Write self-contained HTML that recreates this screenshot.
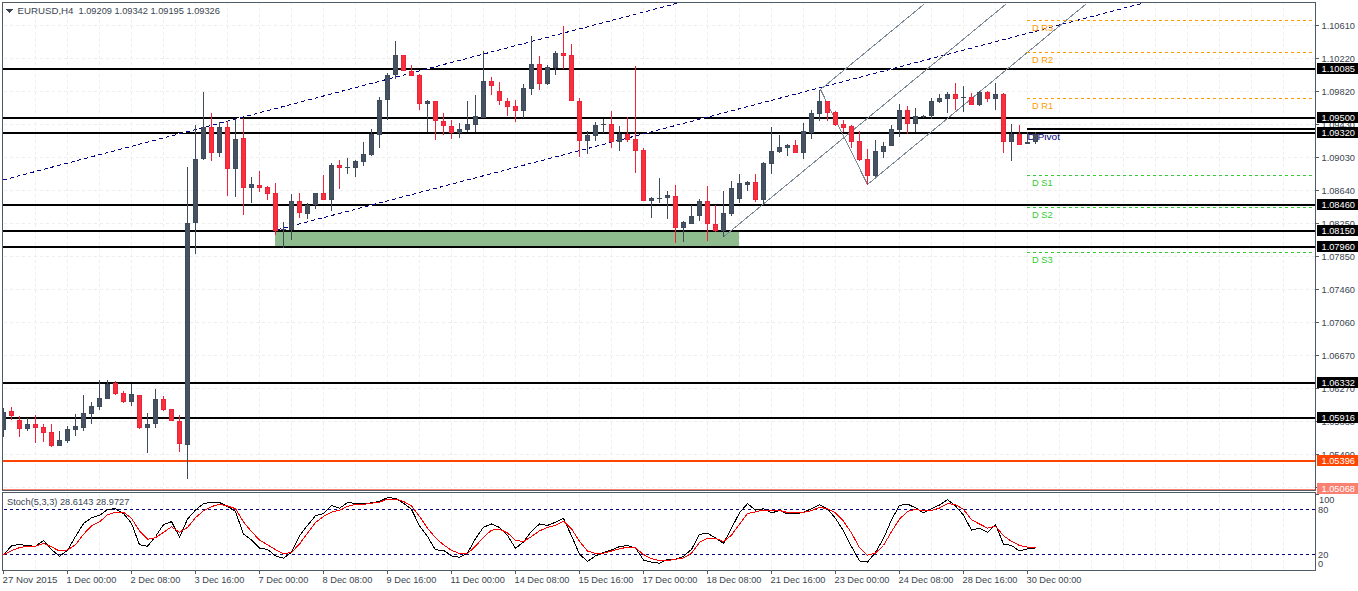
<!DOCTYPE html>
<html><head><meta charset="utf-8"><style>
html,body{margin:0;padding:0;background:#fff;width:1358px;height:591px;overflow:hidden}
svg text{white-space:pre}
</style></head><body>
<svg width="1358" height="591" shape-rendering="crispEdges" font-family='"Liberation Sans", sans-serif' font-size="9.7" style="position:absolute;left:0;top:0">
<defs><clipPath id="cm"><rect x="3" y="3" width="1312" height="487"/></clipPath>
<clipPath id="cs"><rect x="3" y="493" width="1312" height="77"/></clipPath></defs>
<path d="M35.5 2V490 M35.5 494V570 M67.5 2V490 M67.5 494V570 M99.5 2V490 M99.5 494V570 M131.5 2V490 M131.5 494V570 M163.5 2V490 M163.5 494V570 M195.5 2V490 M195.5 494V570 M227.5 2V490 M227.5 494V570 M259.5 2V490 M259.5 494V570 M291.5 2V490 M291.5 494V570 M323.5 2V490 M323.5 494V570 M355.5 2V490 M355.5 494V570 M387.5 2V490 M387.5 494V570 M419.5 2V490 M419.5 494V570 M451.5 2V490 M451.5 494V570 M483.5 2V490 M483.5 494V570 M515.5 2V490 M515.5 494V570 M547.5 2V490 M547.5 494V570 M579.5 2V490 M579.5 494V570 M611.5 2V490 M611.5 494V570 M643.5 2V490 M643.5 494V570 M675.5 2V490 M675.5 494V570 M707.5 2V490 M707.5 494V570 M739.5 2V490 M739.5 494V570 M771.5 2V490 M771.5 494V570 M803.5 2V490 M803.5 494V570 M835.5 2V490 M835.5 494V570 M867.5 2V490 M867.5 494V570 M899.5 2V490 M899.5 494V570 M931.5 2V490 M931.5 494V570 M963.5 2V490 M963.5 494V570 M995.5 2V490 M995.5 494V570 M1027.5 2V490 M1027.5 494V570 M1059.5 2V490 M1059.5 494V570 M1091.5 2V490 M1091.5 494V570 M1123.5 2V490 M1123.5 494V570 M1155.5 2V490 M1155.5 494V570 M1187.5 2V490 M1187.5 494V570 M1219.5 2V490 M1219.5 494V570 M1251.5 2V490 M1251.5 494V570 M1283.5 2V490 M1283.5 494V570 M4 25.5H1315 M4 58.5H1315 M4 91.5H1315 M4 124.5H1315 M4 157.5H1315 M4 190.5H1315 M4 223.5H1315 M4 256.5H1315 M4 289.5H1315 M4 322.5H1315 M4 355.5H1315 M4 388.5H1315 M4 421.5H1315 M4 454.5H1315 M4 487.5H1315" stroke="#eeeeee" stroke-width="1" stroke-dasharray="3,3" fill="none"/>
<g clip-path="url(#cm)"><rect x="275" y="231" width="464" height="16" fill="#8fbc8f"/><rect x="3" y="68" width="1312" height="2" fill="#000"/><rect x="3" y="117" width="1312" height="2" fill="#000"/><rect x="3" y="132" width="1312" height="2" fill="#000"/><rect x="3" y="204" width="1312" height="2" fill="#000"/><rect x="3" y="230" width="1312" height="2" fill="#000"/><rect x="3" y="246" width="1312" height="2" fill="#000"/><rect x="3" y="382" width="1312" height="2" fill="#000"/><rect x="3" y="417" width="1312" height="2" fill="#000"/><rect x="3" y="460" width="1312" height="2" fill="#ff4500"/><rect x="3" y="489" width="1312" height="1" fill="#fa8072"/><line x1="3" y1="180" x2="677.5" y2="3.2" stroke="#fff" stroke-width="1"/><line x1="3" y1="180" x2="677.5" y2="3.2" stroke="#000080" stroke-width="1" stroke-dasharray="4,3"/><line x1="277" y1="229.8" x2="1143.5" y2="3.0" stroke="#fff" stroke-width="1"/><line x1="277" y1="229.8" x2="1143.5" y2="3.0" stroke="#000080" stroke-width="1" stroke-dasharray="4,3"/><line x1="820.5" y1="89.5" x2="924.3" y2="4" stroke="#7b8a96" stroke-width="1"/><line x1="724" y1="236.5" x2="1006.1" y2="4" stroke="#7b8a96" stroke-width="1"/><line x1="867.5" y1="184.5" x2="1086" y2="4" stroke="#7b8a96" stroke-width="1"/><line x1="820.5" y1="89.5" x2="867.5" y2="184.5" stroke="#7b8a96" stroke-width="1"/><rect x="1027" y="128" width="288" height="2" fill="#000"/><path d="M1027 20.5H1315" stroke="#ff9900" stroke-dasharray="3,3"/><path d="M1027 52.5H1315" stroke="#ff9900" stroke-dasharray="3,3"/><path d="M1027 98.5H1315" stroke="#ff9900" stroke-dasharray="3,3"/><path d="M1027 175.5H1315" stroke="#32cd32" stroke-dasharray="3,3"/><path d="M1027 207.5H1315" stroke="#32cd32" stroke-dasharray="3,3"/><path d="M1027 252.5H1315" stroke="#32cd32" stroke-dasharray="3,3"/><text x="1032" y="31" fill="#ff9900" textLength="21.06" lengthAdjust="spacingAndGlyphs" >D R3</text><text x="1032" y="63" fill="#ff9900" textLength="21.06" lengthAdjust="spacingAndGlyphs" >D R2</text><text x="1032" y="109" fill="#ff9900" textLength="21.06" lengthAdjust="spacingAndGlyphs" >D R1</text><text x="1027.5" y="140" fill="#000080" font-size="9" textLength="32.5" lengthAdjust="spacingAndGlyphs">D Pivot</text><text x="1032" y="186" fill="#32cd32" textLength="20.56" lengthAdjust="spacingAndGlyphs" >D S1</text><text x="1032" y="218" fill="#32cd32" textLength="20.56" lengthAdjust="spacingAndGlyphs" >D S2</text><text x="1032" y="263" fill="#32cd32" textLength="20.56" lengthAdjust="spacingAndGlyphs" >D S3</text><rect x="3" y="408" width="1" height="29" fill="#3e4b5b"/><rect x="1" y="412" width="5" height="18" fill="#3e4b5b"/><rect x="2" y="413" width="3" height="16" fill="#465261"/><rect x="11" y="407" width="1" height="13" fill="#ef2337"/><rect x="9" y="411" width="5" height="5" fill="#ef2337"/><rect x="10" y="412" width="3" height="3" fill="#f5303f"/><rect x="19" y="416" width="1" height="21" fill="#ef2337"/><rect x="17" y="420" width="5" height="9" fill="#ef2337"/><rect x="18" y="421" width="3" height="7" fill="#f5303f"/><rect x="27" y="418" width="1" height="13" fill="#3e4b5b"/><rect x="25" y="424" width="5" height="5" fill="#3e4b5b"/><rect x="26" y="425" width="3" height="3" fill="#465261"/><rect x="35" y="415" width="1" height="28" fill="#ef2337"/><rect x="33" y="424" width="5" height="4" fill="#ef2337"/><rect x="34" y="425" width="3" height="2" fill="#f5303f"/><rect x="43" y="424" width="1" height="18" fill="#ef2337"/><rect x="41" y="427" width="5" height="6" fill="#ef2337"/><rect x="42" y="428" width="3" height="4" fill="#f5303f"/><rect x="51" y="424" width="1" height="23" fill="#ef2337"/><rect x="49" y="432" width="5" height="14" fill="#ef2337"/><rect x="50" y="433" width="3" height="12" fill="#f5303f"/><rect x="59" y="431" width="1" height="15" fill="#3e4b5b"/><rect x="57" y="440" width="5" height="6" fill="#3e4b5b"/><rect x="58" y="441" width="3" height="4" fill="#465261"/><rect x="67" y="426" width="1" height="17" fill="#3e4b5b"/><rect x="65" y="429" width="5" height="12" fill="#3e4b5b"/><rect x="66" y="430" width="3" height="10" fill="#465261"/><rect x="75" y="414" width="1" height="22" fill="#3e4b5b"/><rect x="73" y="426" width="5" height="4" fill="#3e4b5b"/><rect x="74" y="427" width="3" height="2" fill="#465261"/><rect x="83" y="395" width="1" height="36" fill="#3e4b5b"/><rect x="81" y="413" width="5" height="15" fill="#3e4b5b"/><rect x="82" y="414" width="3" height="13" fill="#465261"/><rect x="91" y="402" width="1" height="22" fill="#3e4b5b"/><rect x="89" y="406" width="5" height="8" fill="#3e4b5b"/><rect x="90" y="407" width="3" height="6" fill="#465261"/><rect x="99" y="380" width="1" height="30" fill="#3e4b5b"/><rect x="97" y="398" width="5" height="9" fill="#3e4b5b"/><rect x="98" y="399" width="3" height="7" fill="#465261"/><rect x="107" y="380" width="1" height="19" fill="#3e4b5b"/><rect x="105" y="384" width="5" height="15" fill="#3e4b5b"/><rect x="106" y="385" width="3" height="13" fill="#465261"/><rect x="115" y="381" width="1" height="14" fill="#ef2337"/><rect x="113" y="383" width="5" height="11" fill="#ef2337"/><rect x="114" y="384" width="3" height="9" fill="#f5303f"/><rect x="123" y="391" width="1" height="12" fill="#ef2337"/><rect x="121" y="393" width="5" height="9" fill="#ef2337"/><rect x="122" y="394" width="3" height="7" fill="#f5303f"/><rect x="131" y="384" width="1" height="22" fill="#3e4b5b"/><rect x="129" y="394" width="5" height="8" fill="#3e4b5b"/><rect x="130" y="395" width="3" height="6" fill="#465261"/><rect x="139" y="395" width="1" height="34" fill="#ef2337"/><rect x="137" y="395" width="5" height="33" fill="#ef2337"/><rect x="138" y="396" width="3" height="31" fill="#f5303f"/><rect x="147" y="413" width="1" height="40" fill="#3e4b5b"/><rect x="145" y="424" width="5" height="4" fill="#3e4b5b"/><rect x="146" y="425" width="3" height="2" fill="#465261"/><rect x="155" y="389" width="1" height="39" fill="#3e4b5b"/><rect x="153" y="399" width="5" height="25" fill="#3e4b5b"/><rect x="154" y="400" width="3" height="23" fill="#465261"/><rect x="163" y="396" width="1" height="15" fill="#ef2337"/><rect x="161" y="399" width="5" height="11" fill="#ef2337"/><rect x="162" y="400" width="3" height="9" fill="#f5303f"/><rect x="171" y="409" width="1" height="12" fill="#ef2337"/><rect x="169" y="409" width="5" height="12" fill="#ef2337"/><rect x="170" y="410" width="3" height="10" fill="#f5303f"/><rect x="179" y="415" width="1" height="37" fill="#ef2337"/><rect x="177" y="421" width="5" height="23" fill="#ef2337"/><rect x="178" y="422" width="3" height="21" fill="#f5303f"/><rect x="187" y="167" width="1" height="312" fill="#3e4b5b"/><rect x="185" y="223" width="5" height="222" fill="#3e4b5b"/><rect x="186" y="224" width="3" height="220" fill="#465261"/><rect x="195" y="125" width="1" height="129" fill="#3e4b5b"/><rect x="193" y="159" width="5" height="64" fill="#3e4b5b"/><rect x="194" y="160" width="3" height="62" fill="#465261"/><rect x="203" y="92" width="1" height="68" fill="#3e4b5b"/><rect x="201" y="127" width="5" height="32" fill="#3e4b5b"/><rect x="202" y="128" width="3" height="30" fill="#465261"/><rect x="211" y="113" width="1" height="48" fill="#ef2337"/><rect x="209" y="127" width="5" height="26" fill="#ef2337"/><rect x="210" y="128" width="3" height="24" fill="#f5303f"/><rect x="219" y="122" width="1" height="35" fill="#3e4b5b"/><rect x="217" y="127" width="5" height="26" fill="#3e4b5b"/><rect x="218" y="128" width="3" height="24" fill="#465261"/><rect x="227" y="121" width="1" height="75" fill="#ef2337"/><rect x="225" y="127" width="5" height="42" fill="#ef2337"/><rect x="226" y="128" width="3" height="40" fill="#f5303f"/><rect x="235" y="119" width="1" height="78" fill="#3e4b5b"/><rect x="233" y="139" width="5" height="30" fill="#3e4b5b"/><rect x="234" y="140" width="3" height="28" fill="#465261"/><rect x="243" y="118" width="1" height="97" fill="#ef2337"/><rect x="241" y="138" width="5" height="50" fill="#ef2337"/><rect x="242" y="139" width="3" height="48" fill="#f5303f"/><rect x="251" y="177" width="1" height="26" fill="#3e4b5b"/><rect x="249" y="184" width="5" height="4" fill="#3e4b5b"/><rect x="250" y="185" width="3" height="2" fill="#465261"/><rect x="259" y="171" width="1" height="21" fill="#ef2337"/><rect x="257" y="185" width="5" height="3" fill="#ef2337"/><rect x="258" y="186" width="3" height="1" fill="#f5303f"/><rect x="267" y="186" width="1" height="14" fill="#ef2337"/><rect x="265" y="187" width="5" height="7" fill="#ef2337"/><rect x="266" y="188" width="3" height="5" fill="#f5303f"/><rect x="275" y="183" width="1" height="52" fill="#ef2337"/><rect x="273" y="193" width="5" height="38" fill="#ef2337"/><rect x="274" y="194" width="3" height="36" fill="#f5303f"/><rect x="283" y="222" width="1" height="26" fill="#3e4b5b"/><rect x="281" y="229" width="5" height="1" fill="#3e4b5b"/><rect x="291" y="194" width="1" height="46" fill="#3e4b5b"/><rect x="289" y="201" width="5" height="29" fill="#3e4b5b"/><rect x="290" y="202" width="3" height="27" fill="#465261"/><rect x="299" y="193" width="1" height="25" fill="#ef2337"/><rect x="297" y="201" width="5" height="12" fill="#ef2337"/><rect x="298" y="202" width="3" height="10" fill="#f5303f"/><rect x="307" y="203" width="1" height="16" fill="#3e4b5b"/><rect x="305" y="205" width="5" height="9" fill="#3e4b5b"/><rect x="306" y="206" width="3" height="7" fill="#465261"/><rect x="315" y="193" width="1" height="16" fill="#3e4b5b"/><rect x="313" y="193" width="5" height="12" fill="#3e4b5b"/><rect x="314" y="194" width="3" height="10" fill="#465261"/><rect x="323" y="175" width="1" height="25" fill="#ef2337"/><rect x="321" y="193" width="5" height="7" fill="#ef2337"/><rect x="322" y="194" width="3" height="5" fill="#f5303f"/><rect x="331" y="163" width="1" height="48" fill="#3e4b5b"/><rect x="329" y="165" width="5" height="35" fill="#3e4b5b"/><rect x="330" y="166" width="3" height="33" fill="#465261"/><rect x="339" y="160" width="1" height="29" fill="#ef2337"/><rect x="337" y="165" width="5" height="3" fill="#ef2337"/><rect x="338" y="166" width="3" height="1" fill="#f5303f"/><rect x="347" y="158" width="1" height="16" fill="#3e4b5b"/><rect x="345" y="167" width="5" height="1" fill="#3e4b5b"/><rect x="355" y="160" width="1" height="17" fill="#3e4b5b"/><rect x="353" y="161" width="5" height="7" fill="#3e4b5b"/><rect x="354" y="162" width="3" height="5" fill="#465261"/><rect x="363" y="142" width="1" height="24" fill="#3e4b5b"/><rect x="361" y="154" width="5" height="8" fill="#3e4b5b"/><rect x="362" y="155" width="3" height="6" fill="#465261"/><rect x="371" y="129" width="1" height="27" fill="#3e4b5b"/><rect x="369" y="134" width="5" height="21" fill="#3e4b5b"/><rect x="370" y="135" width="3" height="19" fill="#465261"/><rect x="379" y="97" width="1" height="51" fill="#3e4b5b"/><rect x="377" y="100" width="5" height="35" fill="#3e4b5b"/><rect x="378" y="101" width="3" height="33" fill="#465261"/><rect x="387" y="73" width="1" height="47" fill="#3e4b5b"/><rect x="385" y="75" width="5" height="25" fill="#3e4b5b"/><rect x="386" y="76" width="3" height="23" fill="#465261"/><rect x="395" y="41" width="1" height="38" fill="#3e4b5b"/><rect x="393" y="55" width="5" height="20" fill="#3e4b5b"/><rect x="394" y="56" width="3" height="18" fill="#465261"/><rect x="403" y="55" width="1" height="16" fill="#ef2337"/><rect x="401" y="55" width="5" height="16" fill="#ef2337"/><rect x="402" y="56" width="3" height="14" fill="#f5303f"/><rect x="411" y="65" width="1" height="11" fill="#ef2337"/><rect x="409" y="71" width="5" height="5" fill="#ef2337"/><rect x="410" y="72" width="3" height="3" fill="#f5303f"/><rect x="419" y="74" width="1" height="36" fill="#ef2337"/><rect x="417" y="75" width="5" height="29" fill="#ef2337"/><rect x="418" y="76" width="3" height="27" fill="#f5303f"/><rect x="427" y="100" width="1" height="32" fill="#3e4b5b"/><rect x="425" y="101" width="5" height="3" fill="#3e4b5b"/><rect x="426" y="102" width="3" height="1" fill="#465261"/><rect x="435" y="101" width="1" height="39" fill="#ef2337"/><rect x="433" y="101" width="5" height="20" fill="#ef2337"/><rect x="434" y="102" width="3" height="18" fill="#f5303f"/><rect x="443" y="113" width="1" height="22" fill="#ef2337"/><rect x="441" y="121" width="5" height="5" fill="#ef2337"/><rect x="442" y="122" width="3" height="3" fill="#f5303f"/><rect x="451" y="120" width="1" height="19" fill="#ef2337"/><rect x="449" y="126" width="5" height="7" fill="#ef2337"/><rect x="450" y="127" width="3" height="5" fill="#f5303f"/><rect x="459" y="123" width="1" height="15" fill="#3e4b5b"/><rect x="457" y="129" width="5" height="4" fill="#3e4b5b"/><rect x="458" y="130" width="3" height="2" fill="#465261"/><rect x="467" y="101" width="1" height="31" fill="#3e4b5b"/><rect x="465" y="124" width="5" height="6" fill="#3e4b5b"/><rect x="466" y="125" width="3" height="4" fill="#465261"/><rect x="475" y="95" width="1" height="37" fill="#3e4b5b"/><rect x="473" y="116" width="5" height="9" fill="#3e4b5b"/><rect x="474" y="117" width="3" height="7" fill="#465261"/><rect x="483" y="51" width="1" height="67" fill="#3e4b5b"/><rect x="481" y="81" width="5" height="37" fill="#3e4b5b"/><rect x="482" y="82" width="3" height="35" fill="#465261"/><rect x="491" y="77" width="1" height="18" fill="#ef2337"/><rect x="489" y="81" width="5" height="5" fill="#ef2337"/><rect x="490" y="82" width="3" height="3" fill="#f5303f"/><rect x="499" y="82" width="1" height="23" fill="#ef2337"/><rect x="497" y="91" width="5" height="10" fill="#ef2337"/><rect x="498" y="92" width="3" height="8" fill="#f5303f"/><rect x="507" y="98" width="1" height="18" fill="#ef2337"/><rect x="505" y="101" width="5" height="6" fill="#ef2337"/><rect x="506" y="102" width="3" height="4" fill="#f5303f"/><rect x="515" y="100" width="1" height="22" fill="#ef2337"/><rect x="513" y="106" width="5" height="5" fill="#ef2337"/><rect x="514" y="107" width="3" height="3" fill="#f5303f"/><rect x="523" y="84" width="1" height="34" fill="#3e4b5b"/><rect x="521" y="88" width="5" height="23" fill="#3e4b5b"/><rect x="522" y="89" width="3" height="21" fill="#465261"/><rect x="531" y="36" width="1" height="59" fill="#3e4b5b"/><rect x="529" y="64" width="5" height="25" fill="#3e4b5b"/><rect x="530" y="65" width="3" height="23" fill="#465261"/><rect x="539" y="56" width="1" height="34" fill="#ef2337"/><rect x="537" y="64" width="5" height="20" fill="#ef2337"/><rect x="538" y="65" width="3" height="18" fill="#f5303f"/><rect x="547" y="65" width="1" height="20" fill="#3e4b5b"/><rect x="545" y="67" width="5" height="17" fill="#3e4b5b"/><rect x="546" y="68" width="3" height="15" fill="#465261"/><rect x="555" y="51" width="1" height="24" fill="#3e4b5b"/><rect x="553" y="53" width="5" height="15" fill="#3e4b5b"/><rect x="554" y="54" width="3" height="13" fill="#465261"/><rect x="563" y="26" width="1" height="43" fill="#ef2337"/><rect x="561" y="53" width="5" height="3" fill="#ef2337"/><rect x="562" y="54" width="3" height="1" fill="#f5303f"/><rect x="571" y="44" width="1" height="57" fill="#ef2337"/><rect x="569" y="55" width="5" height="46" fill="#ef2337"/><rect x="570" y="56" width="3" height="44" fill="#f5303f"/><rect x="579" y="98" width="1" height="59" fill="#ef2337"/><rect x="577" y="101" width="5" height="40" fill="#ef2337"/><rect x="578" y="102" width="3" height="38" fill="#f5303f"/><rect x="587" y="131" width="1" height="23" fill="#3e4b5b"/><rect x="585" y="135" width="5" height="6" fill="#3e4b5b"/><rect x="586" y="136" width="3" height="4" fill="#465261"/><rect x="595" y="122" width="1" height="19" fill="#3e4b5b"/><rect x="593" y="125" width="5" height="11" fill="#3e4b5b"/><rect x="594" y="126" width="3" height="9" fill="#465261"/><rect x="603" y="119" width="1" height="14" fill="#3e4b5b"/><rect x="601" y="124" width="5" height="1" fill="#3e4b5b"/><rect x="611" y="111" width="1" height="37" fill="#ef2337"/><rect x="609" y="124" width="5" height="18" fill="#ef2337"/><rect x="610" y="125" width="3" height="16" fill="#f5303f"/><rect x="619" y="126" width="1" height="25" fill="#3e4b5b"/><rect x="617" y="134" width="5" height="8" fill="#3e4b5b"/><rect x="618" y="135" width="3" height="6" fill="#465261"/><rect x="627" y="117" width="1" height="25" fill="#ef2337"/><rect x="625" y="134" width="5" height="6" fill="#ef2337"/><rect x="626" y="135" width="3" height="4" fill="#f5303f"/><rect x="635" y="66" width="1" height="107" fill="#ef2337"/><rect x="633" y="139" width="5" height="12" fill="#ef2337"/><rect x="634" y="140" width="3" height="10" fill="#f5303f"/><rect x="643" y="148" width="1" height="53" fill="#ef2337"/><rect x="641" y="150" width="5" height="51" fill="#ef2337"/><rect x="642" y="151" width="3" height="49" fill="#f5303f"/><rect x="651" y="197" width="1" height="21" fill="#3e4b5b"/><rect x="649" y="198" width="5" height="3" fill="#3e4b5b"/><rect x="650" y="199" width="3" height="1" fill="#465261"/><rect x="659" y="178" width="1" height="25" fill="#3e4b5b"/><rect x="657" y="198" width="5" height="1" fill="#3e4b5b"/><rect x="667" y="191" width="1" height="28" fill="#3e4b5b"/><rect x="665" y="195" width="5" height="3" fill="#3e4b5b"/><rect x="666" y="196" width="3" height="1" fill="#465261"/><rect x="675" y="185" width="1" height="58" fill="#ef2337"/><rect x="673" y="196" width="5" height="32" fill="#ef2337"/><rect x="674" y="197" width="3" height="30" fill="#f5303f"/><rect x="683" y="221" width="1" height="21" fill="#3e4b5b"/><rect x="681" y="222" width="5" height="6" fill="#3e4b5b"/><rect x="682" y="223" width="3" height="4" fill="#465261"/><rect x="691" y="205" width="1" height="19" fill="#3e4b5b"/><rect x="689" y="216" width="5" height="8" fill="#3e4b5b"/><rect x="690" y="217" width="3" height="6" fill="#465261"/><rect x="699" y="199" width="1" height="22" fill="#3e4b5b"/><rect x="697" y="201" width="5" height="15" fill="#3e4b5b"/><rect x="698" y="202" width="3" height="13" fill="#465261"/><rect x="707" y="186" width="1" height="55" fill="#ef2337"/><rect x="705" y="201" width="5" height="23" fill="#ef2337"/><rect x="706" y="202" width="3" height="21" fill="#f5303f"/><rect x="715" y="205" width="1" height="27" fill="#ef2337"/><rect x="713" y="224" width="5" height="7" fill="#ef2337"/><rect x="714" y="225" width="3" height="5" fill="#f5303f"/><rect x="723" y="191" width="1" height="46" fill="#3e4b5b"/><rect x="721" y="213" width="5" height="18" fill="#3e4b5b"/><rect x="722" y="214" width="3" height="16" fill="#465261"/><rect x="731" y="181" width="1" height="35" fill="#3e4b5b"/><rect x="729" y="188" width="5" height="26" fill="#3e4b5b"/><rect x="730" y="189" width="3" height="24" fill="#465261"/><rect x="739" y="174" width="1" height="29" fill="#3e4b5b"/><rect x="737" y="183" width="5" height="16" fill="#3e4b5b"/><rect x="738" y="184" width="3" height="14" fill="#465261"/><rect x="747" y="181" width="1" height="10" fill="#3e4b5b"/><rect x="745" y="182" width="5" height="3" fill="#3e4b5b"/><rect x="746" y="183" width="3" height="1" fill="#465261"/><rect x="755" y="174" width="1" height="28" fill="#ef2337"/><rect x="753" y="182" width="5" height="18" fill="#ef2337"/><rect x="754" y="183" width="3" height="16" fill="#f5303f"/><rect x="763" y="162" width="1" height="43" fill="#3e4b5b"/><rect x="761" y="163" width="5" height="37" fill="#3e4b5b"/><rect x="762" y="164" width="3" height="35" fill="#465261"/><rect x="771" y="127" width="1" height="47" fill="#3e4b5b"/><rect x="769" y="151" width="5" height="13" fill="#3e4b5b"/><rect x="770" y="152" width="3" height="11" fill="#465261"/><rect x="779" y="135" width="1" height="18" fill="#3e4b5b"/><rect x="777" y="147" width="5" height="5" fill="#3e4b5b"/><rect x="778" y="148" width="3" height="3" fill="#465261"/><rect x="787" y="144" width="1" height="12" fill="#3e4b5b"/><rect x="785" y="145" width="5" height="3" fill="#3e4b5b"/><rect x="786" y="146" width="3" height="1" fill="#465261"/><rect x="795" y="140" width="1" height="13" fill="#ef2337"/><rect x="793" y="145" width="5" height="8" fill="#ef2337"/><rect x="794" y="146" width="3" height="6" fill="#f5303f"/><rect x="803" y="123" width="1" height="36" fill="#3e4b5b"/><rect x="801" y="131" width="5" height="22" fill="#3e4b5b"/><rect x="802" y="132" width="3" height="20" fill="#465261"/><rect x="811" y="110" width="1" height="29" fill="#3e4b5b"/><rect x="809" y="113" width="5" height="20" fill="#3e4b5b"/><rect x="810" y="114" width="3" height="18" fill="#465261"/><rect x="819" y="90" width="1" height="31" fill="#3e4b5b"/><rect x="817" y="101" width="5" height="13" fill="#3e4b5b"/><rect x="818" y="102" width="3" height="11" fill="#465261"/><rect x="827" y="101" width="1" height="20" fill="#ef2337"/><rect x="825" y="101" width="5" height="12" fill="#ef2337"/><rect x="826" y="102" width="3" height="10" fill="#f5303f"/><rect x="835" y="111" width="1" height="15" fill="#ef2337"/><rect x="833" y="112" width="5" height="13" fill="#ef2337"/><rect x="834" y="113" width="3" height="11" fill="#f5303f"/><rect x="843" y="120" width="1" height="12" fill="#ef2337"/><rect x="841" y="124" width="5" height="4" fill="#ef2337"/><rect x="842" y="125" width="3" height="2" fill="#f5303f"/><rect x="851" y="125" width="1" height="23" fill="#ef2337"/><rect x="849" y="126" width="5" height="16" fill="#ef2337"/><rect x="850" y="127" width="3" height="14" fill="#f5303f"/><rect x="859" y="131" width="1" height="30" fill="#ef2337"/><rect x="857" y="141" width="5" height="19" fill="#ef2337"/><rect x="858" y="142" width="3" height="17" fill="#f5303f"/><rect x="867" y="149" width="1" height="36" fill="#ef2337"/><rect x="865" y="159" width="5" height="17" fill="#ef2337"/><rect x="866" y="160" width="3" height="15" fill="#f5303f"/><rect x="875" y="140" width="1" height="37" fill="#3e4b5b"/><rect x="873" y="151" width="5" height="25" fill="#3e4b5b"/><rect x="874" y="152" width="3" height="23" fill="#465261"/><rect x="883" y="142" width="1" height="16" fill="#3e4b5b"/><rect x="881" y="146" width="5" height="6" fill="#3e4b5b"/><rect x="882" y="147" width="3" height="4" fill="#465261"/><rect x="891" y="125" width="1" height="21" fill="#3e4b5b"/><rect x="889" y="129" width="5" height="17" fill="#3e4b5b"/><rect x="890" y="130" width="3" height="15" fill="#465261"/><rect x="899" y="104" width="1" height="33" fill="#3e4b5b"/><rect x="897" y="110" width="5" height="20" fill="#3e4b5b"/><rect x="898" y="111" width="3" height="18" fill="#465261"/><rect x="907" y="106" width="1" height="28" fill="#ef2337"/><rect x="905" y="110" width="5" height="14" fill="#ef2337"/><rect x="906" y="111" width="3" height="12" fill="#f5303f"/><rect x="915" y="108" width="1" height="24" fill="#3e4b5b"/><rect x="913" y="116" width="5" height="8" fill="#3e4b5b"/><rect x="914" y="117" width="3" height="6" fill="#465261"/><rect x="923" y="115" width="1" height="3" fill="#3e4b5b"/><rect x="921" y="116" width="5" height="1" fill="#3e4b5b"/><rect x="931" y="98" width="1" height="21" fill="#3e4b5b"/><rect x="929" y="101" width="5" height="15" fill="#3e4b5b"/><rect x="930" y="102" width="3" height="13" fill="#465261"/><rect x="939" y="94" width="1" height="9" fill="#3e4b5b"/><rect x="937" y="98" width="5" height="4" fill="#3e4b5b"/><rect x="938" y="99" width="3" height="2" fill="#465261"/><rect x="947" y="92" width="1" height="21" fill="#3e4b5b"/><rect x="945" y="94" width="5" height="5" fill="#3e4b5b"/><rect x="946" y="95" width="3" height="3" fill="#465261"/><rect x="955" y="83" width="1" height="27" fill="#ef2337"/><rect x="953" y="94" width="5" height="5" fill="#ef2337"/><rect x="954" y="95" width="3" height="3" fill="#f5303f"/><rect x="963" y="86" width="1" height="26" fill="#3e4b5b"/><rect x="961" y="97" width="5" height="1" fill="#3e4b5b"/><rect x="971" y="93" width="1" height="12" fill="#ef2337"/><rect x="969" y="97" width="5" height="8" fill="#ef2337"/><rect x="970" y="98" width="3" height="6" fill="#f5303f"/><rect x="979" y="91" width="1" height="15" fill="#3e4b5b"/><rect x="977" y="92" width="5" height="13" fill="#3e4b5b"/><rect x="978" y="93" width="3" height="11" fill="#465261"/><rect x="987" y="91" width="1" height="11" fill="#ef2337"/><rect x="985" y="92" width="5" height="7" fill="#ef2337"/><rect x="986" y="93" width="3" height="5" fill="#f5303f"/><rect x="995" y="83" width="1" height="27" fill="#3e4b5b"/><rect x="993" y="94" width="5" height="5" fill="#3e4b5b"/><rect x="994" y="95" width="3" height="3" fill="#465261"/><rect x="1003" y="93" width="1" height="60" fill="#ef2337"/><rect x="1001" y="94" width="5" height="48" fill="#ef2337"/><rect x="1002" y="95" width="3" height="46" fill="#f5303f"/><rect x="1011" y="124" width="1" height="37" fill="#3e4b5b"/><rect x="1009" y="134" width="5" height="8" fill="#3e4b5b"/><rect x="1010" y="135" width="3" height="6" fill="#465261"/><rect x="1019" y="125" width="1" height="20" fill="#ef2337"/><rect x="1017" y="134" width="5" height="11" fill="#ef2337"/><rect x="1018" y="135" width="3" height="9" fill="#f5303f"/><rect x="1027" y="132" width="1" height="12" fill="#3e4b5b"/><rect x="1025" y="142" width="5" height="2" fill="#3e4b5b"/><rect x="1035" y="132" width="1" height="12" fill="#3e4b5b"/><rect x="1033" y="134" width="5" height="8" fill="#3e4b5b"/><rect x="1034" y="135" width="3" height="6" fill="#465261"/></g>
<g clip-path="url(#cs)"><path d="M4 509.5H1315M4 554.5H1315" stroke="#000080" stroke-width="1" stroke-dasharray="3,3"/><polyline points="3.5,554.5 11.5,546 19.5,544.4 27.5,545.8 35.5,546.2 43.5,540.6 51.5,549.6 59.5,556.3 67.5,550.3 75.5,536.5 83.5,523.6 91.5,517.7 99.5,515.4 107.5,509.4 115.5,508.7 123.5,513.6 131.5,523.3 139.5,544.8 147.5,546.2 155.5,536.5 163.5,524.7 171.5,521.6 179.5,537.2 187.5,519.1 195.5,510.1 203.5,503.6 211.5,502.2 219.5,502.5 227.5,506.6 235.5,511.5 243.5,534.1 251.5,540 259.5,548 267.5,549.4 275.5,555.9 283.5,558.2 291.5,552.4 299.5,535.8 307.5,525.4 315.5,515.7 323.5,513.6 331.5,505.3 339.5,508.3 347.5,502.5 355.5,503.5 363.5,503.9 371.5,502.8 379.5,501.4 387.5,497.6 395.5,498.3 403.5,503.2 411.5,509.4 419.5,525.8 427.5,536.5 435.5,549.9 443.5,550.3 451.5,555.9 459.5,557.3 467.5,553.1 475.5,538.5 483.5,527.2 491.5,524 499.5,527.4 507.5,535.5 515.5,548.3 523.5,542 531.5,531.3 539.5,524 547.5,525.4 555.5,522.2 563.5,518.4 571.5,535.8 579.5,554.1 587.5,561.4 595.5,555.9 603.5,552.4 611.5,549.9 619.5,546.6 627.5,545.5 635.5,548 643.5,560 651.5,562.1 659.5,563.2 667.5,559.3 675.5,559.3 683.5,556.3 691.5,549.4 699.5,534.4 707.5,533.3 715.5,537.8 723.5,543.4 731.5,528.1 739.5,512.9 747.5,503.6 755.5,510.1 763.5,508.7 771.5,512.9 779.5,510.5 787.5,513.9 795.5,513.9 803.5,512.2 811.5,508.7 819.5,504.6 827.5,508.7 835.5,518.4 843.5,530.9 851.5,546.6 859.5,561 867.5,562.1 875.5,552.4 883.5,538.5 891.5,519.8 899.5,505.5 907.5,504.1 915.5,507.8 923.5,512.9 931.5,508.7 939.5,505 947.5,499.7 955.5,506 963.5,515 971.5,530.2 979.5,528.1 987.5,532.3 995.5,524.4 1003.5,544.1 1011.5,545.5 1019.5,551 1027.5,548.9 1035.5,548" fill="none" stroke="#000" stroke-width="1" stroke-linejoin="round"/><polyline points="3.5,554.5 11.5,550.7 19.5,547.6 27.5,546.2 35.5,546.2 43.5,543.4 51.5,546.9 59.5,551 67.5,550 75.5,544.8 83.5,534.4 91.5,525.8 99.5,521.9 107.5,514.7 115.5,512.2 123.5,512.2 131.5,518.4 139.5,530.9 147.5,539.2 155.5,537.8 163.5,532.3 171.5,526.8 179.5,532.3 187.5,527.4 195.5,517.7 203.5,510.8 211.5,506.6 219.5,504.3 227.5,506 235.5,508.7 243.5,521.9 251.5,531.6 259.5,540 267.5,544.8 275.5,549.6 283.5,553.8 291.5,552.4 299.5,544.1 307.5,533 315.5,522.6 323.5,516.4 331.5,512.2 339.5,510.1 347.5,506.4 355.5,504.3 363.5,504.3 371.5,503.2 379.5,502.2 387.5,499 395.5,499 403.5,501.4 411.5,506 419.5,516.4 427.5,528.1 435.5,537.8 443.5,544.8 451.5,550.3 459.5,553.5 467.5,553.5 475.5,546.2 483.5,537.2 491.5,530.2 499.5,529.1 507.5,533 515.5,540.2 523.5,541.6 531.5,536.5 539.5,530.9 547.5,527.4 555.5,525.4 563.5,521.2 571.5,528.8 579.5,541.3 587.5,551 595.5,553.5 603.5,553.1 611.5,551 619.5,548.9 627.5,547.1 635.5,548 643.5,554.5 651.5,558.7 659.5,560.7 667.5,560.5 675.5,559.3 683.5,558 691.5,553.1 699.5,542.4 707.5,538.3 715.5,538.3 723.5,541.6 731.5,535.1 739.5,524 747.5,513.6 755.5,511.9 763.5,510.1 771.5,510.8 779.5,510.5 787.5,512.5 795.5,512.9 803.5,512.2 811.5,510.8 819.5,507.3 827.5,508.7 835.5,512.9 843.5,521.2 851.5,533 859.5,547.6 867.5,555.2 875.5,553.1 883.5,545.5 891.5,531.6 899.5,519.1 907.5,511.5 915.5,509.4 923.5,510.8 931.5,510.5 939.5,508 947.5,503.6 955.5,504.6 963.5,509.4 971.5,519.8 979.5,524 987.5,528.1 995.5,526.1 1003.5,535.8 1011.5,541.3 1019.5,545.5 1027.5,547.1 1035.5,547.6" fill="none" stroke="#ff0000" stroke-width="1" stroke-linejoin="round"/></g>
<rect x="2.5" y="2.5" width="1313" height="488" fill="none" stroke="#4e5a64"/>
<rect x="2.5" y="492.5" width="1313" height="78" fill="none" stroke="#4e5a64"/>
<text x="1321.5" y="29" fill="#3a4550" textLength="33.42" lengthAdjust="spacingAndGlyphs" >1.10610</text><text x="1321.5" y="62" fill="#3a4550" textLength="33.42" lengthAdjust="spacingAndGlyphs" >1.10220</text><text x="1321.5" y="95" fill="#3a4550" textLength="33.42" lengthAdjust="spacingAndGlyphs" >1.09820</text><text x="1321.5" y="128" fill="#3a4550" textLength="33.42" lengthAdjust="spacingAndGlyphs" >1.09430</text><text x="1321.5" y="161" fill="#3a4550" textLength="33.42" lengthAdjust="spacingAndGlyphs" >1.09030</text><text x="1321.5" y="194" fill="#3a4550" textLength="33.42" lengthAdjust="spacingAndGlyphs" >1.08640</text><text x="1321.5" y="227" fill="#3a4550" textLength="33.42" lengthAdjust="spacingAndGlyphs" >1.08250</text><text x="1321.5" y="260" fill="#3a4550" textLength="33.42" lengthAdjust="spacingAndGlyphs" >1.07850</text><text x="1321.5" y="293" fill="#3a4550" textLength="33.42" lengthAdjust="spacingAndGlyphs" >1.07460</text><text x="1321.5" y="326" fill="#3a4550" textLength="33.42" lengthAdjust="spacingAndGlyphs" >1.07060</text><text x="1321.5" y="359" fill="#3a4550" textLength="33.42" lengthAdjust="spacingAndGlyphs" >1.06670</text><text x="1321.5" y="392" fill="#3a4550" textLength="33.42" lengthAdjust="spacingAndGlyphs" >1.06270</text><text x="1321.5" y="425" fill="#3a4550" textLength="33.42" lengthAdjust="spacingAndGlyphs" >1.05880</text><text x="1321.5" y="458" fill="#3a4550" textLength="33.42" lengthAdjust="spacingAndGlyphs" >1.05490</text><text x="1319" y="503" fill="#3a4550" textLength="15.43" lengthAdjust="spacingAndGlyphs" >100</text><text x="1318" y="513" fill="#3a4550" textLength="10.29" lengthAdjust="spacingAndGlyphs" >80</text><text x="1318" y="558" fill="#3a4550" textLength="10.29" lengthAdjust="spacingAndGlyphs" >20</text><text x="1318" y="567" fill="#3a4550" textLength="5.14" lengthAdjust="spacingAndGlyphs" >0</text><text x="2.5" y="583" fill="#3a4550" textLength="54.94" lengthAdjust="spacingAndGlyphs" >27 Nov 2015</text><text x="66.5" y="583" fill="#3a4550" textLength="49.85" lengthAdjust="spacingAndGlyphs" >1 Dec 00:00</text><text x="130.5" y="583" fill="#3a4550" textLength="49.85" lengthAdjust="spacingAndGlyphs" >2 Dec 08:00</text><text x="194.5" y="583" fill="#3a4550" textLength="49.85" lengthAdjust="spacingAndGlyphs" >3 Dec 16:00</text><text x="258.5" y="583" fill="#3a4550" textLength="49.85" lengthAdjust="spacingAndGlyphs" >7 Dec 00:00</text><text x="322.5" y="583" fill="#3a4550" textLength="49.85" lengthAdjust="spacingAndGlyphs" >8 Dec 08:00</text><text x="386.5" y="583" fill="#3a4550" textLength="49.85" lengthAdjust="spacingAndGlyphs" >9 Dec 16:00</text><text x="450.5" y="583" fill="#3a4550" textLength="54.30" lengthAdjust="spacingAndGlyphs" >11 Dec 00:00</text><text x="514.5" y="583" fill="#3a4550" textLength="54.99" lengthAdjust="spacingAndGlyphs" >14 Dec 08:00</text><text x="578.5" y="583" fill="#3a4550" textLength="54.99" lengthAdjust="spacingAndGlyphs" >15 Dec 16:00</text><text x="642.5" y="583" fill="#3a4550" textLength="54.99" lengthAdjust="spacingAndGlyphs" >17 Dec 00:00</text><text x="706.5" y="583" fill="#3a4550" textLength="54.99" lengthAdjust="spacingAndGlyphs" >18 Dec 08:00</text><text x="770.5" y="583" fill="#3a4550" textLength="54.99" lengthAdjust="spacingAndGlyphs" >21 Dec 16:00</text><text x="834.5" y="583" fill="#3a4550" textLength="54.99" lengthAdjust="spacingAndGlyphs" >23 Dec 00:00</text><text x="898.5" y="583" fill="#3a4550" textLength="54.99" lengthAdjust="spacingAndGlyphs" >24 Dec 08:00</text><text x="962.5" y="583" fill="#3a4550" textLength="54.99" lengthAdjust="spacingAndGlyphs" >28 Dec 16:00</text><text x="1026.5" y="583" fill="#3a4550" textLength="54.99" lengthAdjust="spacingAndGlyphs" >30 Dec 00:00</text><path d="M1316 25.5H1319 M1316 58.5H1319 M1316 91.5H1319 M1316 124.5H1319 M1316 157.5H1319 M1316 190.5H1319 M1316 223.5H1319 M1316 256.5H1319 M1316 289.5H1319 M1316 322.5H1319 M1316 355.5H1319 M1316 388.5H1319 M1316 421.5H1319 M1316 454.5H1319 M1316 487.5H1319M1316 494.5H1319 M3.5 571V574 M67.5 571V574 M131.5 571V574 M195.5 571V574 M259.5 571V574 M323.5 571V574 M387.5 571V574 M451.5 571V574 M515.5 571V574 M579.5 571V574 M643.5 571V574 M707.5 571V574 M771.5 571V574 M835.5 571V574 M899.5 571V574 M963.5 571V574 M1027.5 571V574" stroke="#4e5a64" fill="none"/><rect x="1317" y="63" width="41" height="11" fill="#000"/><text x="1321.5" y="72" fill="#fff" textLength="33.42" lengthAdjust="spacingAndGlyphs" >1.10085</text><rect x="1317" y="112" width="41" height="11" fill="#000"/><text x="1321.5" y="121" fill="#fff" textLength="33.42" lengthAdjust="spacingAndGlyphs" >1.09500</text><rect x="1317" y="127" width="41" height="11" fill="#000"/><text x="1321.5" y="136" fill="#fff" textLength="33.42" lengthAdjust="spacingAndGlyphs" >1.09320</text><rect x="1317" y="199" width="41" height="11" fill="#000"/><text x="1321.5" y="208" fill="#fff" textLength="33.42" lengthAdjust="spacingAndGlyphs" >1.08460</text><rect x="1317" y="225" width="41" height="11" fill="#000"/><text x="1321.5" y="234" fill="#fff" textLength="33.42" lengthAdjust="spacingAndGlyphs" >1.08150</text><rect x="1317" y="241" width="41" height="11" fill="#000"/><text x="1321.5" y="250" fill="#fff" textLength="33.42" lengthAdjust="spacingAndGlyphs" >1.07960</text><rect x="1317" y="377" width="41" height="11" fill="#000"/><text x="1321.5" y="386" fill="#fff" textLength="33.42" lengthAdjust="spacingAndGlyphs" >1.06332</text><rect x="1317" y="412" width="41" height="11" fill="#000"/><text x="1321.5" y="421" fill="#fff" textLength="33.42" lengthAdjust="spacingAndGlyphs" >1.05916</text><rect x="1317" y="455" width="41" height="11" fill="#ff4500"/><text x="1321.5" y="464" fill="#fff" textLength="33.42" lengthAdjust="spacingAndGlyphs" >1.05396</text><rect x="1317" y="483" width="41" height="11" fill="#fa8072"/><text x="1321.5" y="492" fill="#fff" textLength="33.42" lengthAdjust="spacingAndGlyphs" >1.05068</text><path d="M6 9H13L9.5 13Z" fill="#3a4550"/><text x="17.5" y="14" fill="#3a4550" textLength="55.98" lengthAdjust="spacingAndGlyphs" >EURUSD,H4</text><text x="78.5" y="14" fill="#3a4550" textLength="141.34" lengthAdjust="spacingAndGlyphs" >1.09209 1.09342 1.09195 1.09326</text><text x="7" y="505" fill="#3a4550" textLength="122.31" lengthAdjust="spacingAndGlyphs" >Stoch(5,3,3) 28.6143 28.9727</text>
</svg>
</body></html>
